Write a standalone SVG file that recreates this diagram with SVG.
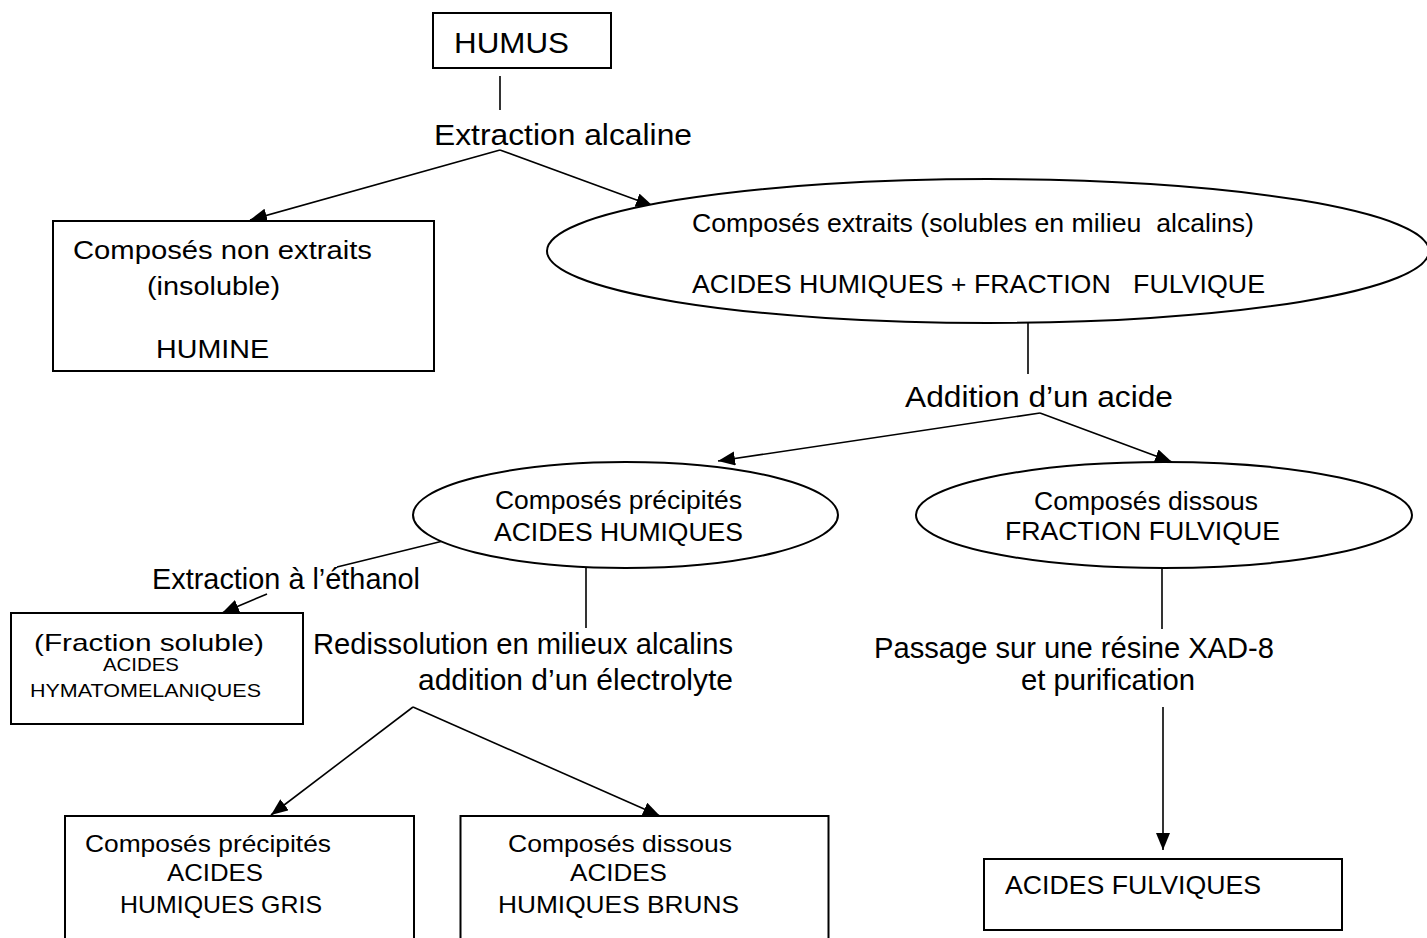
<svg xmlns="http://www.w3.org/2000/svg" width="1427" height="938" viewBox="0 0 1427 938">
  <style>
    text { font-family: "Liberation Sans", Arial, sans-serif; fill: #000; }
    .box { fill: #fff; stroke: #000; stroke-width: 2; }
    .ell { fill: #fff; stroke: #000; stroke-width: 2; }
    .ln { fill: none; stroke: #000; stroke-width: 1.6; }
    .arr { fill: none; stroke: #000; stroke-width: 1.6; marker-end: url(#ah); }
  </style>
  <defs>
    <marker id="ah" markerUnits="userSpaceOnUse" markerWidth="20" markerHeight="16" refX="17" refY="7" orient="auto">
      <path d="M0,0 L17,7 L0,14 Z" fill="#000"/>
    </marker>
  </defs>
  <rect width="1427" height="938" fill="#fff"/>

  <g id="connectors">
    <line class="ln" x1="500" y1="76" x2="500" y2="110"/>
    <line class="arr" x1="500" y1="150" x2="250" y2="220"/>
    <line class="arr" x1="500" y1="150" x2="653" y2="206"/>
    <line class="ln" x1="1028" y1="322" x2="1028" y2="374"/>
    <line class="arr" x1="1040" y1="413" x2="718" y2="461"/>
    <line class="arr" x1="1040" y1="413" x2="1172" y2="462"/>
    <line class="ln" x1="443" y1="541" x2="337" y2="567"/>
    <line class="arr" x1="267" y1="594" x2="222" y2="613"/>
    <line class="ln" x1="586" y1="568" x2="586" y2="628"/>
    <line class="arr" x1="413" y1="707" x2="271" y2="815"/>
    <line class="arr" x1="413" y1="707" x2="660" y2="816"/>
    <line class="ln" x1="1162" y1="568" x2="1162" y2="629"/>
    <line class="arr" x1="1163" y1="707" x2="1163" y2="850"/>
  </g>

  <g id="humus">
    <rect class="box" x="433" y="13" width="178" height="55"/>
    <text x="454" y="53" font-size="29" textLength="115" lengthAdjust="spacingAndGlyphs">HUMUS</text>
  </g>

  <g id="label-extraction-alcaline">
    <text x="434" y="145" font-size="30" textLength="258" lengthAdjust="spacingAndGlyphs">Extraction alcaline</text>
  </g>

  <g id="humine">
    <rect class="box" x="53" y="221" width="381" height="150"/>
    <text x="73" y="259" font-size="25" textLength="299" lengthAdjust="spacingAndGlyphs">Composés non extraits</text>
    <text x="147" y="295" font-size="25" textLength="133" lengthAdjust="spacingAndGlyphs">(insoluble)</text>
    <text x="156" y="358" font-size="25" textLength="113" lengthAdjust="spacingAndGlyphs">HUMINE</text>
  </g>

  <g id="extraits">
    <ellipse class="ell" cx="988" cy="251" rx="441" ry="72"/>
    <text x="692" y="232" font-size="26" xml:space="preserve" textLength="562" lengthAdjust="spacingAndGlyphs">Composés extraits (solubles en milieu  alcalins)</text>
    <text x="692" y="293" font-size="26" xml:space="preserve" textLength="573" lengthAdjust="spacingAndGlyphs">ACIDES HUMIQUES + FRACTION   FULVIQUE</text>
  </g>

  <g id="label-addition-acide">
    <text x="905" y="407" font-size="30" textLength="268" lengthAdjust="spacingAndGlyphs">Addition d’un acide</text>
  </g>

  <g id="precipites">
    <ellipse class="ell" cx="625.5" cy="515" rx="212.5" ry="53"/>
    <text x="495" y="509" font-size="25" textLength="247" lengthAdjust="spacingAndGlyphs">Composés précipités</text>
    <text x="494" y="541" font-size="25" textLength="249" lengthAdjust="spacingAndGlyphs">ACIDES HUMIQUES</text>
  </g>

  <g id="dissous">
    <ellipse class="ell" cx="1164" cy="515" rx="248" ry="53"/>
    <text x="1034" y="510" font-size="25" textLength="224" lengthAdjust="spacingAndGlyphs">Composés dissous</text>
    <text x="1005" y="540" font-size="25" textLength="275" lengthAdjust="spacingAndGlyphs">FRACTION FULVIQUE</text>
  </g>

  <g id="label-ethanol">
    <text x="152" y="589" font-size="29" textLength="268" lengthAdjust="spacingAndGlyphs">Extraction à l’éthanol</text>
  </g>

  <g id="hymatomelaniques">
    <rect class="box" x="11" y="613" width="292" height="111"/>
    <text x="34" y="651" font-size="24" textLength="230" lengthAdjust="spacingAndGlyphs">(Fraction soluble)</text>
    <text x="103" y="671" font-size="18" textLength="76" lengthAdjust="spacingAndGlyphs">ACIDES</text>
    <text x="30" y="697" font-size="18" textLength="231" lengthAdjust="spacingAndGlyphs">HYMATOMELANIQUES</text>
  </g>

  <g id="label-redissolution">
    <text x="313" y="654" font-size="29" textLength="420" lengthAdjust="spacingAndGlyphs">Redissolution en milieux alcalins</text>
    <text x="418" y="690" font-size="29" textLength="315" lengthAdjust="spacingAndGlyphs">addition d’un électrolyte</text>
  </g>

  <g id="label-passage">
    <text x="874" y="658" font-size="29" textLength="400" lengthAdjust="spacingAndGlyphs">Passage sur une résine XAD-8</text>
    <text x="1021" y="690" font-size="29" textLength="174" lengthAdjust="spacingAndGlyphs">et purification</text>
  </g>

  <g id="gris">
    <rect class="box" x="65" y="816" width="349" height="140"/>
    <text x="85" y="852" font-size="24" textLength="246" lengthAdjust="spacingAndGlyphs">Composés précipités</text>
    <text x="167" y="881" font-size="24" textLength="96" lengthAdjust="spacingAndGlyphs">ACIDES</text>
    <text x="120" y="913" font-size="24" textLength="202" lengthAdjust="spacingAndGlyphs">HUMIQUES GRIS</text>
  </g>

  <g id="bruns">
    <rect class="box" x="460.5" y="816" width="368" height="140"/>
    <text x="508" y="852" font-size="24" textLength="224" lengthAdjust="spacingAndGlyphs">Composés dissous</text>
    <text x="570" y="881" font-size="24" textLength="97" lengthAdjust="spacingAndGlyphs">ACIDES</text>
    <text x="498" y="913" font-size="24" textLength="241" lengthAdjust="spacingAndGlyphs">HUMIQUES BRUNS</text>
  </g>

  <g id="fulviques">
    <rect class="box" x="984" y="859" width="358" height="71"/>
    <text x="1005" y="894" font-size="25" textLength="256" lengthAdjust="spacingAndGlyphs">ACIDES FULVIQUES</text>
  </g>
</svg>
